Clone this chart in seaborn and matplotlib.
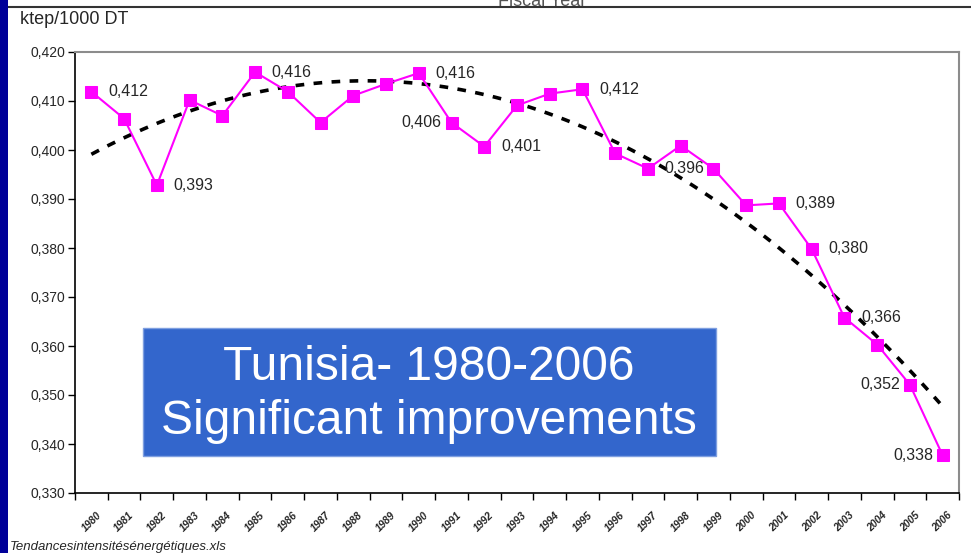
import numpy as np
import pandas as pd
import matplotlib
matplotlib.use("Agg")
import matplotlib.pyplot as plt
import seaborn as sns
from matplotlib.patches import Rectangle
from matplotlib.lines import Line2D

# ==========================================
# DATA
# ==========================================
years = list(range(1980, 2007))
intensity = [0.4119, 0.4064, 0.3928, 0.4102, 0.4070, 0.4159, 0.4119, 0.4056, 0.4111,
             0.4135, 0.4157, 0.4056, 0.4007, 0.4091, 0.4115, 0.4124, 0.3993, 0.3962,
             0.4009, 0.3962, 0.3887, 0.3891, 0.3798, 0.3658, 0.3603, 0.3521, 0.3377]

# which points carry a data label, and on which side
label_right = [1980, 1982, 1985, 1990, 1992, 1995, 1997, 2001, 2002, 2003]
label_left = [1991, 2005, 2006]

box_lines = ["Tunisia- 1980-2006", "Significant improvements"]

df = pd.DataFrame({"idx": range(len(years)), "year": years, "value": intensity})

# ==========================================
# PLOT
# ==========================================
sns.set_theme(style="white")
plt.rcParams['font.family'] = ['Liberation Sans', 'DejaVu Sans']

fig = plt.figure(figsize=(9.71, 5.53), dpi=100)
W, H = 971, 553
ax = fig.add_axes([75 / W, 1 - 493 / H, (959 - 75) / W, (493 - 52) / H])

# polynomial trend line (Excel-style, order 2), drawn first so the series sits on top
sns.regplot(data=df, x="idx", y="value", order=2, ci=None, scatter=False, ax=ax,
            line_kws=dict(color="black", lw=2.6, ls=(0, (2.4, 2.6))), truncate=True)

sns.lineplot(data=df, x="idx", y="value", ax=ax, color="#FF00FF", lw=1.5,
             marker="s", markersize=8, markeredgecolor="#FF00FF")

def fmt(v):
    return f"{v:.3f}".replace(".", ",")

for _, r in df.iterrows():
    if r["year"] in label_right:
        ax.annotate(fmt(r["value"]), (r["idx"], r["value"]), xytext=(12, 0),
                    textcoords="offset points", ha="left", va="center", fontsize=11.5)
    elif r["year"] in label_left:
        ax.annotate(fmt(r["value"]), (r["idx"], r["value"]), xytext=(-7, 0),
                    textcoords="offset points", ha="right", va="center", fontsize=11.5)

ax.set_xlim(-0.5, len(years) - 0.5)
ax.set_ylim(0.330, 0.420)
yt = np.arange(0.330, 0.4201, 0.010)
ax.set_yticks(yt)
ax.set_yticklabels([fmt(t) for t in yt], fontsize=10)

# tick marks between categories, labels at category centres
ax.set_xticks(np.arange(-0.5, len(years), 1.0))
ax.set_xticklabels([])
ax.set_xticks(range(len(years)), minor=True)
ax.set_xticklabels([str(y) for y in years], minor=True, rotation=45, fontsize=7.5,
                   fontweight="bold", style="italic", ha="center", va="top")
ax.tick_params(axis="x", which="major", direction="out", length=5, width=1, color="black",
               bottom=True)
ax.tick_params(axis="x", which="minor", length=0, pad=12)
ax.tick_params(axis="y", direction="out", length=5, width=1, color="black", left=True, pad=2)
ax.set_xlabel("")
ax.set_ylabel("")

for side in ["top", "right"]:
    ax.spines[side].set_color("#8c8c8c")
    ax.spines[side].set_linewidth(1.5)
for side in ["left", "bottom"]:
    ax.spines[side].set_color("black")
    ax.spines[side].set_linewidth(1.2)

# blue text box
fig.patches.append(Rectangle((143 / W, 1 - 456 / H), (716 - 143) / W, (456 - 328) / H,
                             transform=fig.transFigure, facecolor="#3366CC",
                             edgecolor="#7f9fe0", lw=1, zorder=5))
fig.text(429 / W, 1 - 367 / H, box_lines[0], ha="center", va="center", color="white",
         fontsize=34.5, zorder=6)
fig.text(429 / W, 1 - 422 / H, box_lines[1], ha="center", va="center", color="white",
         fontsize=34.5, zorder=6)

# slide decorations
fig.text(20 / W, 1 - 20 / H, "ktep/1000 DT", ha="left", va="center", fontsize=13)
fig.text(10 / W, 1 - 541 / H, "Tendancesintensitésénergétiques.xls", ha="left", va="top",
         fontsize=9.5, style="italic")
fig.text(542 / W, 1 - 1 / H, "Fiscal Year", ha="center", va="center", fontsize=13,
         color="#555555")
fig.patches.append(Rectangle((0, 1 - 7 / H), 1, 7 / H, transform=fig.transFigure,
                             facecolor="white", edgecolor="none", zorder=3))
fig.lines.append(Line2D([8 / W, 1], [1 - 7 / H, 1 - 7 / H], transform=fig.transFigure,
                        color="#333333", lw=1.5, zorder=4))
fig.patches.append(Rectangle((0, 0), 8 / W, 1, transform=fig.transFigure,
                             facecolor="#000099", edgecolor="none", zorder=4))

fig.savefig("out.png", dpi=100)
